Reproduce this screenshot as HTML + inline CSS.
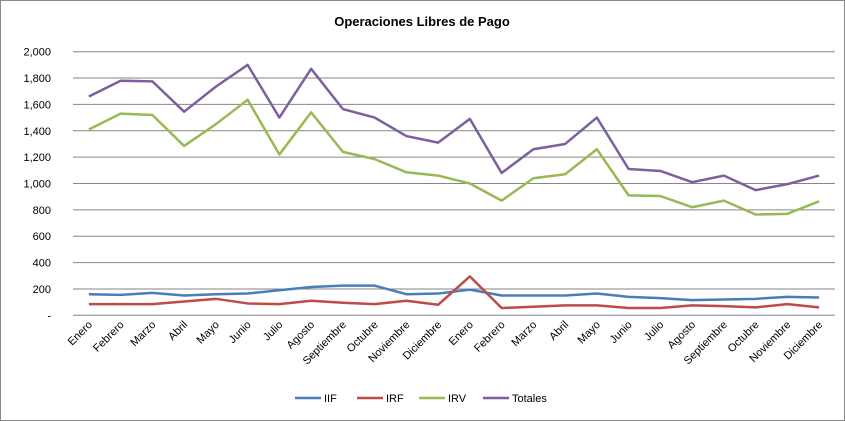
<!DOCTYPE html>
<html><head><meta charset="utf-8"><style>
body{margin:0;background:#fff;}
svg{display:block;font-family:"Liberation Sans",sans-serif;}
</style></head><body>
<svg id="chart" width="845" height="421" viewBox="0 0 845 421">
<rect x="0.5" y="0.5" width="844" height="420" fill="#fff" stroke="#888"/>
<text x="422" y="26" text-anchor="middle" font-size="13" font-weight="bold">Operaciones Libres de Pago</text>
<g id="grid"></g>
<g id="yaxis"></g>
<g id="xaxis"></g>
<g id="series"></g>
<g id="legend"></g>
</svg>
<script>
const categories=["Enero","Febrero","Marzo","Abril","Mayo","Junio","Julio","Agosto","Septiembre","Octubre","Noviembre","Diciembre","Enero","Febrero","Marzo","Abril","Mayo","Junio","Julio","Agosto","Septiembre","Octubre","Noviembre","Diciembre"];
const iif=[160,155,170,150,160,165,190,215,225,225,160,165,195,150,150,150,165,140,130,115,120,125,140,135];
const irf=[85,85,85,105,125,90,85,110,95,85,110,80,295,55,65,75,75,55,55,75,70,60,85,60];
const irv=[1410,1530,1520,1285,1450,1635,1220,1540,1240,1185,1085,1060,1000,870,1040,1070,1260,910,905,820,870,765,770,865];
const totales=[1660,1780,1775,1545,1735,1900,1500,1870,1565,1500,1360,1310,1490,1080,1260,1300,1500,1110,1095,1010,1060,950,995,1060];
const yTicks=[0,200,400,600,800,1000,1200,1400,1600,1800,2000];
const yTickLabels=["-","200","400","600","800","1,000","1,200","1,400","1,600","1,800","2,000"];
const seriesNames=["IIF","IRF","IRV","Totales"];
const colors=["#4a7ebb","#be4b48","#98b954","#7d5fa0"];
const NS="http://www.w3.org/2000/svg";
const L=73,R=835,T=51.7,B=315.3,ymax=2000;
const cw=(R-L)/categories.length;
const x=i=>L+cw*(i+0.5);
const y=v=>B-(v/ymax)*(B-T);
function mk(tag,attrs,parent){const e=document.createElementNS(NS,tag);for(const k in attrs)e.setAttribute(k,attrs[k]);parent.appendChild(e);return e;}
const grid=document.getElementById('grid'),ya=document.getElementById('yaxis'),xa=document.getElementById('xaxis'),sg=document.getElementById('series'),lg=document.getElementById('legend');
yTicks.forEach((t,i)=>{
 const g=mk('line',{x1:L,x2:R,y1:y(t),y2:y(t),stroke:'#868686','stroke-width':1},grid);
 
 
 const tx=mk('text',{x:L-22,y:y(t)+4,'text-anchor':'end','font-size':11},ya);
 tx.textContent=yTickLabels[i];
 
 
});
categories.forEach((c,i)=>{
 const tx=mk('text',{x:x(i)+4,y:B+10,'text-anchor':'end','font-size':11,transform:`rotate(-45 ${x(i)+4} ${B+10})`},xa);
 tx.textContent=c;
 
 
});
[iif,irf,irv,totales].forEach((d,s)=>{
 const p=mk('polyline',{points:d.map((v,i)=>x(i)+','+y(v)).join(' '),fill:'none',stroke:colors[s],'stroke-width':2.5,'stroke-linejoin':'round'},sg);
 
 
});
const lx=[295,357,419,483];
seriesNames.forEach((n,s)=>{
 const ln=mk('line',{x1:lx[s],x2:lx[s]+26,y1:398,y2:398,stroke:colors[s],'stroke-width':2.5},lg);
 
 
 const tx=mk('text',{x:lx[s]+29,y:402,'font-size':11},lg);
 tx.textContent=n;
 
 
});
</script>
</body></html>
